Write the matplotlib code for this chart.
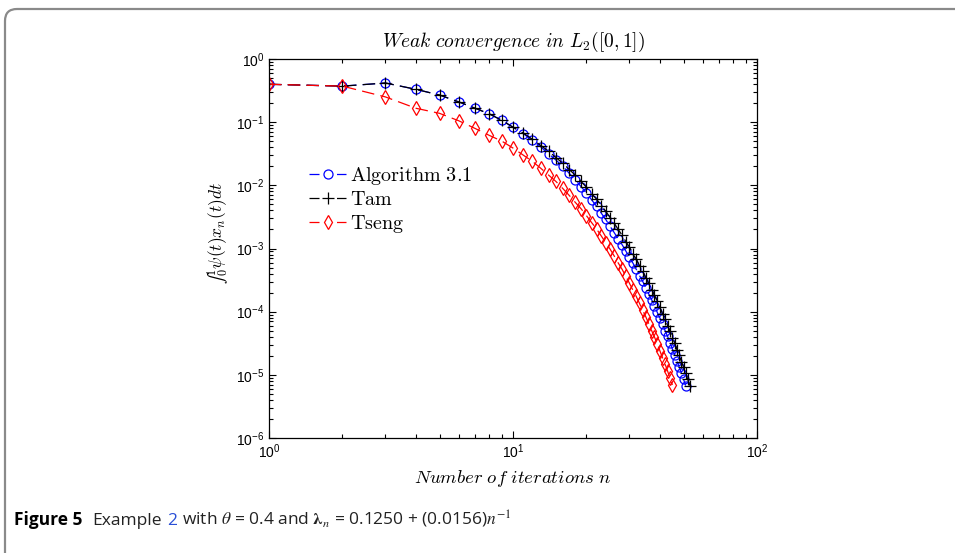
import matplotlib
matplotlib.use('agg')
import matplotlib.pyplot as plt
import numpy as np
from matplotlib.patches import FancyBboxPatch
from matplotlib.ticker import LogLocator, NullFormatter

plt.rcParams['font.family'] = 'Liberation Sans'
plt.rcParams['mathtext.fontset'] = 'custom'
plt.rcParams['mathtext.rm'] = 'Liberation Sans'

# values, one per iteration n = 1, 2, ...
alg31 = [0.398, 0.372, 0.417, 0.331, 0.269, 0.209, 0.166, 0.135, 0.107, 0.0832,
         0.0661, 0.0513, 0.0407, 0.0316, 0.0251, 0.0200, 0.0155, 0.0123, 0.00955, 0.00759,
         0.00589, 0.00468, 0.00363, 0.00288, 0.00224, 0.00178, 0.00141, 0.00115, 9.12e-4, 7.24e-4,
         5.89e-4, 4.68e-4, 3.72e-4, 3.02e-4, 2.40e-4, 1.91e-4, 1.55e-4, 1.23e-4, 9.77e-5, 7.94e-5,
         6.31e-5, 5.01e-5, 4.07e-5, 3.24e-5, 2.57e-5, 2.09e-5, 1.66e-5, 1.32e-5, 1.07e-5, 8.51e-6,
         6.76e-6]
tam = [0.398, 0.372, 0.417, 0.331, 0.269, 0.209, 0.166, 0.135, 0.107, 0.0832,
       0.0676, 0.0537, 0.0427, 0.0347, 0.0275, 0.0224, 0.0178, 0.0145, 0.0115, 0.00933,
       0.00741, 0.00603, 0.00479, 0.00389, 0.00309, 0.00251, 0.00200, 0.00162, 0.00129, 0.00105,
       8.32e-4, 6.76e-4, 5.37e-4, 4.37e-4, 3.47e-4, 2.82e-4, 2.24e-4, 1.82e-4, 1.45e-4, 1.17e-4,
       9.33e-5, 7.59e-5, 6.03e-5, 4.90e-5, 3.89e-5, 3.16e-5, 2.51e-5, 2.04e-5, 1.62e-5, 1.32e-5,
       1.05e-5, 8.51e-6, 6.76e-6]
tseng = [0.398, 0.372, 0.251, 0.166, 0.138, 0.105, 0.0794, 0.0617, 0.0501, 0.0389,
         0.0302, 0.0240, 0.0186, 0.0145, 0.0115, 0.00891, 0.00692, 0.00537, 0.00427, 0.00331,
         0.00257, 0.00204, 0.00158, 0.00123, 9.77e-4, 7.59e-4, 5.89e-4, 4.68e-4, 3.63e-4, 2.82e-4,
         2.19e-4, 1.74e-4, 1.35e-4, 1.05e-4, 8.32e-5, 6.46e-5, 5.01e-5, 3.98e-5, 3.09e-5, 2.40e-5,
         1.86e-5, 1.48e-5, 1.15e-5, 8.91e-6, 6.92e-6]

fig = plt.figure(figsize=(9.55, 5.53), dpi=100)
ax = fig.add_axes([269/955, 1 - 438/553, (757 - 269)/955, (438 - 59)/553])

dash = (0, (10, 5))
ax.loglog(np.arange(1, len(alg31) + 1), alg31, ls=dash, lw=0.9, color='blue',
          marker='o', mfc='none', ms=6.5, mew=0.9, label=r'$\mathrm{Algorithm\ 3.1}$')
ax.loglog(np.arange(1, len(tam) + 1), tam, ls=dash, lw=0.9, color='black',
          marker='+', ms=8, mew=0.9, label=r'$\mathrm{Tam}$')
ax.loglog(np.arange(1, len(tseng) + 1), tseng, ls=dash, lw=0.9, color='red',
          marker='d', mfc='none', ms=7.5, mew=0.9, label=r'$\mathrm{Tseng}$')

ax.set_xlim(1, 100)
ax.set_ylim(1e-6, 1)
ax.yaxis.set_major_locator(LogLocator(base=10, numticks=10))
ax.yaxis.set_minor_locator(LogLocator(base=10, subs=np.arange(2, 10), numticks=10))
ax.yaxis.set_minor_formatter(NullFormatter())
ax.xaxis.set_minor_formatter(NullFormatter())
ax.tick_params(which='both', direction='in', top=True, right=True, width=0.8)
ax.tick_params(which='major', length=5, labelsize=10)
ax.tick_params(which='minor', length=3)
for s in ax.spines.values():
    s.set_linewidth(0.9)

ax.set_title(r'$Weak\ convergence\ in\ L_2([0,1])$', math_fontfamily='cm', fontsize=14, pad=9)
ax.set_xlabel(r'$Number\ of\ iterations\ n$', math_fontfamily='cm', fontsize=13.5, labelpad=5)
ax.set_ylabel('$\u222b_0^1\\psi(t)x_n(t)dt$', math_fontfamily='cm', fontsize=12.5)
ax.yaxis.set_label_coords(-0.078, 0.54)

leg = ax.legend(loc='upper left', bbox_to_anchor=(0.045, 0.768), frameon=False,
                fontsize=14.5, handlelength=1.85, handletextpad=0.2, labelspacing=0.17)
for t in leg.get_texts():
    t.set_math_fontfamily('cm')
for ln in leg.get_lines():
    ln.set_linestyle((0, (8, 14)))

# outer rounded frame (inch units so the corner stays round)
inch = fig.dpi_scale_trans
frame = FancyBboxPatch((0.05, -0.6), 11.0, 5.53 - 0.09 + 0.6,
                       boxstyle='round,pad=0,rounding_size=0.12',
                       transform=inch, fc='none', ec='#8a8a8a', lw=1.6)
fig.patches.append(frame)

# caption, drawn piece by piece; gaps in inches
renderer = fig.canvas.get_renderer()
pieces = [
    ('Figure 5', dict(weight='bold', color='black'), 0.10),
    ('Example', dict(color='#222222'), 0.05),
    ('2', dict(color='#2a4fd6'), 0.05),
    (r'with $\theta$ = 0.4 and $\mathbf{\lambda}_n$ = 0.1250 + (0.0156)$n^{-1}$',
     dict(color='#222222', math_fontfamily='stix'), 0),
]
x = 0.14
for txt, kw, gap in pieces:
    t = fig.text(x, 0.28, txt, transform=inch, fontsize=12.5,
                 family='Open Sans', va='baseline', ha='left', **kw)
    x1 = t.get_window_extent(renderer).x1
    x = inch.inverted().transform((x1, 0))[0] + gap

fig.savefig('out.png', dpi=100)
